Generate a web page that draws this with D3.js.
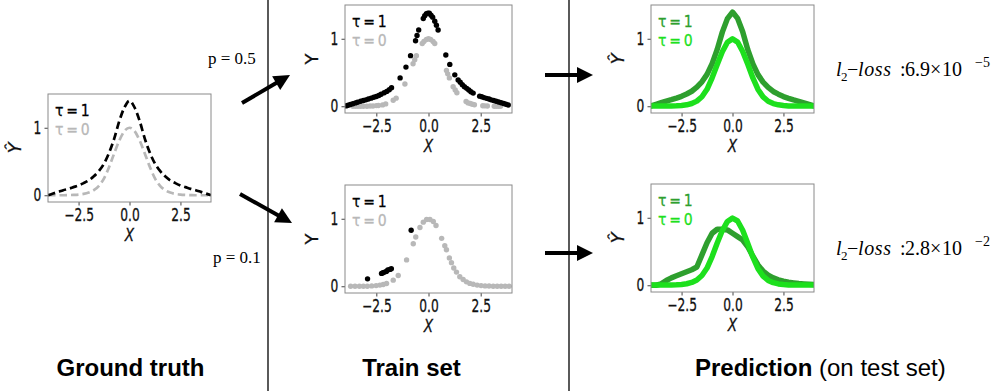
<!DOCTYPE html>
<html lang="en">
<head>
<meta charset="UTF-8">
<title>Ground truth / Train set / Prediction</title>
<script src="https://d3js.org/d3.v7.min.js"></script>
<style>
  body { margin: 0; background: #fff; }
  .tick text { font-family: "DejaVu Sans", sans-serif; font-size: 17px; stroke: #111; stroke-width: 0.3px; }
  .ptext { stroke-width: 0.3px; }
  .title { font-family: "Liberation Sans", Arial, sans-serif; font-size: 24px; }
  .ptxt { font-family: "Liberation Serif", "Times New Roman", serif; }
</style>
</head>
<body>
<div id="chart"></div>
<script>
// shared x grid of the curves
const xGrid = [-4, -3.75, -3.5, -3.25, -3, -2.75, -2.5, -2.25, -2, -1.75, -1.5, -1.25, -1, -0.75, -0.5, -0.25,
               0, 0.25, 0.5, 0.75, 1, 1.25, 1.5, 1.75, 2, 2.25, 2.5, 2.75, 3, 3.25, 3.5, 3.75, 4];

// ground truth
const gtTau0 = [0, 0, 0, 0, 0.002, 0.005, 0.01, 0.02, 0.04, 0.075, 0.14, 0.25, 0.42, 0.62, 0.81, 0.95,
                1.0, 0.95, 0.81, 0.62, 0.42, 0.25, 0.14, 0.075, 0.04, 0.02, 0.01, 0.005, 0.002, 0, 0, 0, 0];
const gtTau1 = [0, 0.025, 0.05, 0.075, 0.095, 0.12, 0.145, 0.18, 0.22, 0.28, 0.36, 0.47, 0.63, 0.84, 1.1, 1.3,
                1.4, 1.3, 1.1, 0.84, 0.63, 0.47, 0.36, 0.28, 0.22, 0.18, 0.145, 0.12, 0.095, 0.075, 0.05, 0.025, 0];

// predictions
const predTopTau1 = [0.005, 0.028, 0.052, 0.076, 0.097, 0.121, 0.147, 0.181, 0.222, 0.282, 0.362, 0.472, 0.632, 0.842, 1.098, 1.298,
                     1.395, 1.302, 1.103, 0.838, 0.628, 0.468, 0.358, 0.279, 0.219, 0.179, 0.144, 0.118, 0.094, 0.073, 0.049, 0.026, 0.004];
const predTopTau0 = [0.003, 0.002, 0.002, 0.002, 0.003, 0.006, 0.011, 0.021, 0.041, 0.076, 0.141, 0.251, 0.421, 0.619, 0.808, 0.948,
                     0.998, 0.951, 0.812, 0.621, 0.419, 0.249, 0.139, 0.074, 0.04, 0.021, 0.011, 0.005, 0.003, 0.002, 0.002, 0.002, 0.003];
const predBotTau1 = [0, 0, 0.02, 0.07, 0.11, 0.14, 0.17, 0.2, 0.23, 0.27, 0.45, 0.63, 0.77, 0.83, 0.83, 0.82,
                     0.77, 0.72, 0.67, 0.57, 0.43, 0.3, 0.21, 0.15, 0.11, 0.08, 0.06, 0.045, 0.035, 0.025, 0.02, 0.015, 0.01];
const predBotTau0 = [0.003, 0.003, 0.002, 0.002, 0.003, 0.006, 0.012, 0.022, 0.042, 0.078, 0.145, 0.255, 0.425, 0.625, 0.81, 0.945,
                     0.995, 0.952, 0.815, 0.618, 0.415, 0.245, 0.136, 0.072, 0.038, 0.02, 0.01, 0.005, 0.003, 0.002, 0.002, 0.002, 0.003];

// train samples [x, y]
const trainTop1 = [[-3.95,0.005],[-3.85,0.015],[-3.74,0.026],[-3.62,0.038],[-3.5,0.05],[-3.4,0.06],[-3.25,0.075],[-3.12,0.085],
  [-3.0,0.095],[-2.88,0.107],[-2.75,0.12],[-2.62,0.133],[-2.5,0.145],[-2.38,0.16],[-2.27,0.177],[-2.12,0.2],[-2.0,0.22],
  [-1.88,0.245],[-1.77,0.275],[-1.36,0.42],[-1.08,0.58],[-0.86,0.75],[-0.62,0.97],[-0.55,1.05],[-0.47,1.13],[-0.25,1.3],
  [-0.18,1.34],[-0.1,1.37],[-0.03,1.38],[0.04,1.38],[0.12,1.35],[0.2,1.32],[0.3,1.26],[0.38,1.2],[0.46,1.13],[0.83,0.76],
  [1.02,0.62],[1.26,0.465],[1.42,0.39],[1.52,0.355],[1.62,0.32],[1.72,0.29],[1.83,0.265],[1.93,0.24],[2.03,0.215],[2.14,0.195],
  [2.45,0.15],[2.55,0.14],[2.66,0.128],[2.78,0.117],[2.9,0.107],[3.0,0.095],[3.12,0.085],[3.24,0.075],[3.36,0.064],
  [3.48,0.052],[3.6,0.04],[3.71,0.03],[3.82,0.018]];
const trainTop0 = [[-3.62,0],[-3.5,0],[-3.38,0],[-3.25,0],[-3.12,0],[-2.95,0],[-2.8,0.003],[-2.66,0.004],[-2.5,0.01],
  [-2.4,0.012],[-2.2,0.02],[-2.05,0.035],[-1.69,0.09],[-1.55,0.12],[-1.13,0.33],[-0.74,0.63],[-0.66,0.69],[-0.58,0.75],
  [-0.3,0.93],[-0.22,0.96],[-0.1,0.99],[0.0,1.0],[0.1,0.99],[0.22,0.96],[0.3,0.93],[0.86,0.53],[0.92,0.48],[1.0,0.42],
  [1.18,0.29],[1.28,0.24],[1.36,0.2],[1.8,0.07],[1.9,0.05],[2.0,0.04],[2.1,0.03],[2.2,0.022],[2.6,0.008],[2.7,0.006],
  [2.82,0.004],[3.15,0],[3.25,0],[3.35,0],[3.45,0]];
const trainBot1 = [[-2.92,0.11],[-2.25,0.19],[-2.18,0.2],[-2.1,0.21],[-2.02,0.22],[-1.95,0.24],[-1.85,0.25],[-1.78,0.26],[-0.83,0.83]];
const trainBot0 = [[-3.73,0],[-3.52,0],[-3.31,0],[-3.12,0],[-2.93,0],[-2.72,0.005],[-2.51,0.01],[-2.33,0.017],[-2.17,0.025],
  [-2.01,0.04],[-1.69,0.09],[-1.45,0.16],[-1.05,0.39],[-0.73,0.63],[-0.61,0.73],[-0.41,0.87],[-0.25,0.95],[-0.09,0.99],
  [0.07,0.99],[0.23,0.96],[0.36,0.9],[0.63,0.71],[0.78,0.6],[0.86,0.54],[1.0,0.42],[1.1,0.35],[1.21,0.27],[1.34,0.21],
  [1.5,0.14],[1.66,0.1],[1.82,0.065],[1.98,0.042],[2.14,0.03],[2.33,0.017],[2.52,0.01],[2.71,0.005],[2.9,0.003],
  [3.1,0],[3.29,0],[3.48,0],[3.67,0],[3.86,0]];

const xTicks = [-2.5, 0, 2.5];
const yTicks = [0, 1];
const xDomain = [-4, 4];
const yDomain = [-0.1, 1.5];

const W = 1000, H = 391;
const svg = d3.select("#chart").append("svg")
  .attr("width", W).attr("height", H)
  .style("display", "block");

const defs = svg.append("defs");
const squeeze = "scale(0.72,1)";
let clipId = 0;

function panel(box, yLabel, legendColors) {
  const x = d3.scaleLinear().domain(xDomain).range([box.x, box.x + box.w]);
  const y = d3.scaleLinear().domain(yDomain).range([box.y + box.h, box.y]);
  const g = svg.append("g");

  const id = "clip" + (clipId++);
  defs.append("clipPath").attr("id", id)
    .append("rect").attr("x", box.x).attr("y", box.y).attr("width", box.w).attr("height", box.h);
  const plot = g.append("g").attr("clip-path", `url(#${id})`);

  // x axis
  const xa = g.append("g")
    .attr("transform", `translate(0,${box.y + box.h})`)
    .call(d3.axisBottom(x).tickValues(xTicks).tickFormat(d3.format(".1f")).tickSize(3.5).tickPadding(3));
  xa.select(".domain").remove();
  xa.selectAll(".tick line").attr("stroke", "#444");
  xa.selectAll(".tick text").attr("transform", squeeze).attr("fill", "#111");

  // y axis
  const ya = g.append("g")
    .attr("transform", `translate(${box.x},0)`)
    .call(d3.axisLeft(y).tickValues(yTicks).tickFormat(d3.format("d")).tickSize(3.5).tickPadding(6));
  ya.select(".domain").remove();
  ya.selectAll(".tick line").attr("stroke", "#444");
  ya.selectAll(".tick text").attr("transform", squeeze).attr("fill", "#111");

  // frame
  g.append("rect")
    .attr("x", box.x).attr("y", box.y).attr("width", box.w).attr("height", box.h)
    .attr("fill", "none").attr("stroke", "#8a8a8a").attr("stroke-width", 1);

  // axis labels
  g.append("text").attr("class", "ptext")
    .attr("transform", `translate(${box.x + box.w / 2},${box.y + box.h + 33}) scale(0.8,1)`)
    .attr("text-anchor", "middle").attr("dominant-baseline", "central")
    .attr("font-family", "DejaVu Sans").attr("font-size", 17).attr("font-style", "italic")
    .attr("fill", "#111").attr("stroke", "#111")
    .text("X");
  g.append("text").attr("class", "ptext")
    .attr("transform", `translate(${box.x - 34},${box.y + box.h / 2}) rotate(-90)`)
    .attr("text-anchor", "middle").attr("dominant-baseline", "central")
    .attr("font-family", "DejaVu Sans").attr("font-size", 18)
    .attr("font-style", yLabel.italic ? "italic" : "normal")
    .attr("fill", "#111").attr("stroke", "#111")
    .text(yLabel.text);

  // legend
  ["τ\u2009=\u20091", "τ\u2009=\u20090"].forEach((t, i) => {
    g.append("text").attr("class", "ptext")
      .attr("transform", `translate(${box.x + 7},${box.y + 22 + i * 19}) scale(0.85,1)`)
      .attr("font-family", "DejaVu Sans").attr("font-size", 16.5)
      .attr("fill", legendColors[i]).attr("stroke", legendColors[i])
      .text(t);
  });

  return { x, y, plot };
}

function dashed(p, ys, color) {
  const line = d3.line().x((d, i) => p.x(xGrid[i])).y(d => p.y(d)).curve(d3.curveMonotoneX);
  p.plot.append("path").datum(ys)
    .attr("d", line).attr("fill", "none")
    .attr("stroke", color).attr("stroke-width", 2.7)
    .attr("stroke-dasharray", "7.5,4");
}

function thick(p, ys, color) {
  const line = d3.line().x((d, i) => p.x(xGrid[i])).y(d => p.y(d));
  p.plot.append("path").datum(ys)
    .attr("d", line).attr("fill", "none")
    .attr("stroke", color).attr("stroke-width", 5.5)
    .attr("stroke-linejoin", "round").attr("stroke-linecap", "round");
}

function dots(p, pts, color) {
  p.plot.selectAll(null).data(pts).join("circle")
    .attr("cx", d => p.x(d[0])).attr("cy", d => p.y(d[1]))
    .attr("r", 2.7).attr("fill", color);
}

const black = "#000", gray = "#b8b8b8";
const dark = "#2e9f2e", light = "#1de01d";
const hatY = { text: "Ŷ", italic: true }, plainY = { text: "Y", italic: false };

// Ground truth
const gt = panel({ x: 48, y: 94, w: 163, h: 108 }, hatY, [black, gray]);
dashed(gt, gtTau0, gray);
dashed(gt, gtTau1, black);

// Train set
const trTop = panel({ x: 345, y: 5, w: 167, h: 108 }, plainY, [black, gray]);
dots(trTop, trainTop0, gray);
dots(trTop, trainTop1, black);
const trBot = panel({ x: 345, y: 185, w: 167, h: 108 }, plainY, [black, gray]);
dots(trBot, trainBot0, gray);
dots(trBot, trainBot1, black);

// Prediction
const prTop = panel({ x: 651, y: 5, w: 163, h: 108 }, hatY, [dark, light]);
thick(prTop, predTopTau1, dark);
thick(prTop, predTopTau0, light);
const prBot = panel({ x: 651, y: 184, w: 163, h: 108 }, hatY, [dark, light]);
thick(prBot, predBotTau1, dark);
thick(prBot, predBotTau0, light);

// dividers
[268, 569].forEach(xv => {
  svg.append("line").attr("x1", xv).attr("x2", xv).attr("y1", 0).attr("y2", H)
    .attr("stroke", "#000").attr("stroke-width", 1.3);
});

// arrows
function arrow(x1, y1, x2, y2) {
  const a = Math.atan2(y2 - y1, x2 - x1), hl = 16, hw = 8;
  const bx = x2 - hl * Math.cos(a), by = y2 - hl * Math.sin(a);
  svg.append("line").attr("x1", x1).attr("y1", y1).attr("x2", bx + 2 * Math.cos(a)).attr("y2", by + 2 * Math.sin(a))
    .attr("stroke", "#000").attr("stroke-width", 4);
  const px = -Math.sin(a) * hw, py = Math.cos(a) * hw;
  svg.append("path")
    .attr("d", `M${x2},${y2}L${bx + px},${by + py}L${bx - px},${by - py}Z`)
    .attr("fill", "#000");
}
arrow(242, 103, 290, 75);
arrow(240, 194, 292, 223);
arrow(545, 75, 593, 75);
arrow(545, 253, 593, 253);

// p labels
svg.append("text").attr("class", "ptxt").attr("x", 208).attr("y", 64).attr("font-size", 17).text("p = 0.5");
svg.append("text").attr("class", "ptxt").attr("x", 213).attr("y", 263).attr("font-size", 17).text("p = 0.1");

// loss texts
function loss(y0, mant, exp) {
  const t = svg.append("text").attr("class", "ptxt").attr("font-size", 20);
  t.append("tspan").attr("x", 836).attr("y", y0).attr("font-style", "italic").text("l");
  t.append("tspan").attr("x", 841).attr("y", y0 + 5).attr("font-size", 13).text("2");
  t.append("tspan").attr("x", 847).attr("y", y0).text("−");
  t.append("tspan").attr("x", 858).attr("y", y0).attr("font-style", "italic")
    .attr("textLength", 33).attr("lengthAdjust", "spacing").text("loss");
  t.append("tspan").attr("x", 900).attr("y", y0).text(":");
  t.append("tspan").attr("x", 905).attr("y", y0).text(mant);
  t.append("tspan").attr("x", 930).attr("y", y0).text("×");
  t.append("tspan").attr("x", 942).attr("y", y0).text("10");
  t.append("tspan").attr("x", 975).attr("y", y0 - 9).attr("font-size", 14).text(exp);
}
loss(76, "6.9", "−5");
loss(255, "2.8", "−2");

// titles
svg.append("text").attr("class", "title").attr("x", 130.5).attr("y", 376)
  .attr("text-anchor", "middle").attr("font-weight", "bold").text("Ground truth");
svg.append("text").attr("class", "title").attr("x", 411.5).attr("y", 376)
  .attr("text-anchor", "middle").attr("font-weight", "bold").text("Train set");
const pt = svg.append("text").attr("class", "title").attr("x", 695).attr("y", 376);
pt.append("tspan").attr("font-weight", "bold").text("Prediction");
pt.append("tspan").text(" (on test set)");
</script>
</body>
</html>
